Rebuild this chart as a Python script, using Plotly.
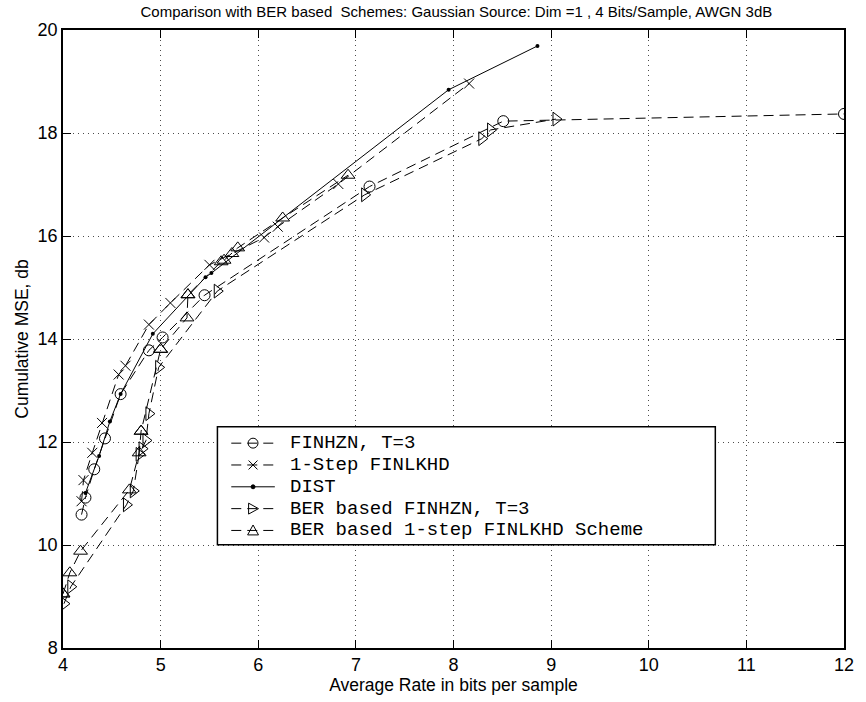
import plotly.graph_objects as go

# FINHZN, T=3
finhzn_x = [4.19, 4.23, 4.32, 4.43, 4.59, 4.88, 5.02, 5.45, 7.14, 8.51, 12.0]
finhzn_y = [10.59, 10.92, 11.47, 12.07, 12.93, 13.78, 14.03, 14.85, 16.96, 18.23, 18.37]

# 1-Step FINLKHD
finlkhd_x = [4.19, 4.21, 4.30, 4.40, 4.57, 4.64, 4.88, 5.10, 5.50, 6.06, 6.20, 6.82, 8.16]
finlkhd_y = [10.85, 11.26, 11.79, 12.37, 13.31, 13.48, 14.28, 14.70, 15.44, 15.97, 16.18, 17.01, 18.96]

# DIST
dist_x = [4.23, 4.37, 4.48, 4.59, 4.92, 5.46, 5.52, 7.95, 8.86]
dist_y = [11.01, 11.73, 12.40, 12.93, 14.10, 15.20, 15.28, 18.84, 19.69]

# BER based FINHZN, T=3
ber_finhzn_x = [4.01, 4.08, 4.65, 4.72, 4.78, 4.81, 4.85, 4.88, 4.98, 5.58, 7.09, 8.29, 8.38, 9.05]
ber_finhzn_y = [8.86, 9.19, 10.78, 11.05, 11.76, 11.87, 12.03, 12.55, 13.45, 14.93, 16.80, 17.89, 18.06, 18.27]

# BER based 1-step FINLKHD Scheme
ber_finlkhd_x = [4.00, 4.00, 4.07, 4.18, 4.68, 4.78, 4.80, 4.80, 5.00, 5.00, 5.27, 5.28, 5.28,
                 5.62, 5.65, 5.73, 5.79, 6.25, 6.92]
ber_finlkhd_y = [9.05, 9.05, 9.46, 9.88, 11.07, 11.79, 12.21, 12.21, 13.80, 13.80, 14.41, 14.86, 14.86,
                 15.50, 15.53, 15.66, 15.77, 16.35, 17.18]

series_names = ["FINHZN, T=3", "1-Step FINLKHD", "DIST",
                "BER based FINHZN, T=3", "BER based 1-step FINLKHD Scheme"]

x_ticks = [4, 5, 6, 7, 8, 9, 10, 11, 12]
y_ticks = [8, 10, 12, 14, 16, 18, 20]

# page / plot-area geometry (pixels)
W, H = 866, 702
ML, MR, MT, MB = 63, 14, 30, 49
PW, PH = W - ML - MR, H - MT - MB

def fx(p):
    return (p - ML) / PW

def fy(p):
    return (H - MB - p) / PH

DASH = "10px,6px"
mk_line = dict(color="black", width=1)
SANS = "Liberation Sans, Arial, sans-serif"

fig = go.Figure()
fig.add_trace(go.Scatter(
    x=finhzn_x, y=finhzn_y, name=series_names[0], mode="lines+markers",
    line=dict(color="black", width=1, dash=DASH),
    marker=dict(symbol="circle-open", size=11, color="black", line=mk_line)))
fig.add_trace(go.Scatter(
    x=finlkhd_x, y=finlkhd_y, name=series_names[1], mode="lines+markers",
    line=dict(color="black", width=1, dash=DASH),
    marker=dict(symbol="x-thin-open", size=10, color="black", line=mk_line)))
fig.add_trace(go.Scatter(
    x=dist_x, y=dist_y, name=series_names[2], mode="lines+markers",
    line=dict(color="black", width=1),
    marker=dict(symbol="circle", size=4, color="black")))
fig.add_trace(go.Scatter(
    x=ber_finhzn_x, y=ber_finhzn_y, name=series_names[3], mode="lines+markers",
    line=dict(color="black", width=1, dash=DASH),
    marker=dict(symbol="triangle-right-open", size=12, color="black", line=mk_line)))
fig.add_trace(go.Scatter(
    x=ber_finlkhd_x, y=ber_finlkhd_y, name=series_names[4], mode="lines+markers",
    line=dict(color="black", width=1, dash=DASH),
    marker=dict(symbol="triangle-up-open", size=12, color="black", line=mk_line)))

# ---- legend box drawn with shapes and annotations (Courier-style, tight rows) ----
box_l, box_r, box_t, box_b = 219, 722, 430, 549
row_y = [446.5 + 22 * i for i in range(len(series_names))]
key_l, key_r, key_c = 233, 277, 255
text_x = 291

shapes = [dict(type="rect", xref="paper", yref="paper",
               x0=fx(box_l), x1=fx(box_r), y0=fy(box_b), y1=fy(box_t),
               line=dict(color="black", width=1.5), fillcolor="white", layer="above")]
annotations = []

def seg(x0, y0, x1, y1, dash=None, width=1):
    line = dict(color="black", width=width)
    if dash:
        line["dash"] = dash
    return dict(type="line", xref="paper", yref="paper",
                x0=fx(x0), y0=fy(y0), x1=fx(x1), y1=fy(y1), line=line, layer="above")

def poly(points):
    path = "M " + " L ".join(f"{fx(a):.5f},{fy(b):.5f}" for a, b in points) + " Z"
    return dict(type="path", xref="paper", yref="paper", path=path,
                line=dict(color="black", width=1), fillcolor="rgba(0,0,0,0)", layer="above")

for i, (name, yc) in enumerate(zip(series_names, row_y)):
    if i == 2:
        shapes.append(seg(key_l, yc, key_r, yc))
        shapes.append(dict(type="circle", xref="paper", yref="paper",
                           x0=fx(key_c - 2), x1=fx(key_c + 2), y0=fy(yc + 2), y1=fy(yc - 2),
                           line=dict(color="black", width=1), fillcolor="black", layer="above"))
    else:
        shapes.append(seg(key_l, yc, key_r, yc, dash=DASH))
        r = 5
        if i == 0:
            shapes.append(dict(type="circle", xref="paper", yref="paper",
                               x0=fx(key_c - r), x1=fx(key_c + r), y0=fy(yc + r), y1=fy(yc - r),
                               line=dict(color="black", width=1), fillcolor="rgba(0,0,0,0)",
                               layer="above"))
        elif i == 1:
            shapes.append(seg(key_c - 4.5, yc - 4.5, key_c + 4.5, yc + 4.5))
            shapes.append(seg(key_c - 4.5, yc + 4.5, key_c + 4.5, yc - 4.5))
        elif i == 3:
            shapes.append(poly([(key_c - 4.5, yc - 5.5), (key_c + 5.5, yc), (key_c - 4.5, yc + 5.5)]))
        else:
            shapes.append(poly([(key_c - 5.5, yc + 4.5), (key_c, yc - 5.5), (key_c + 5.5, yc + 4.5)]))
    annotations.append(dict(
        text=name, xref="paper", yref="paper", x=fx(text_x), y=fy(yc),
        xanchor="left", yanchor="middle", showarrow=False,
        height=20, valign="middle", borderpad=0,
        font=dict(family="Liberation Mono, Courier New, monospace", size=19, color="black")))

tick_font = dict(family=SANS, size=18, color="black")
axis_common = dict(
    showline=True, linecolor="black", linewidth=1.5, mirror="ticks",
    ticks="inside", ticklen=8, tickwidth=1, tickcolor="black",
    showgrid=True, gridcolor="rgba(0,0,0,0.7)", gridwidth=1, griddash="1px,4px",
    zeroline=False, tickfont=tick_font,
)

fig.update_layout(
    width=W, height=H,
    margin=dict(l=ML, r=MR, t=MT, b=MB),
    paper_bgcolor="white", plot_bgcolor="white",
    showlegend=False,
    title=dict(
        text="Comparison with BER based  Schemes: Gaussian Source: Dim =1 , 4 Bits/Sample, AWGN 3dB",
        x=0.527, xanchor="center", y=0.983, yanchor="middle",
        font=dict(family=SANS, size=15, color="black")),
    xaxis=dict(range=[4, 12], tickvals=x_ticks,
               title=dict(text="Average Rate in bits per sample", standoff=2,
                          font=dict(family=SANS, size=17.5, color="black")),
               **axis_common),
    yaxis=dict(range=[8, 20], tickvals=y_ticks,
               title=dict(text="Cumulative MSE, db", standoff=4,
                          font=dict(family=SANS, size=17.5, color="black")),
               **axis_common),
    shapes=shapes,
    annotations=annotations,
)

fig.write_html("out.html")
